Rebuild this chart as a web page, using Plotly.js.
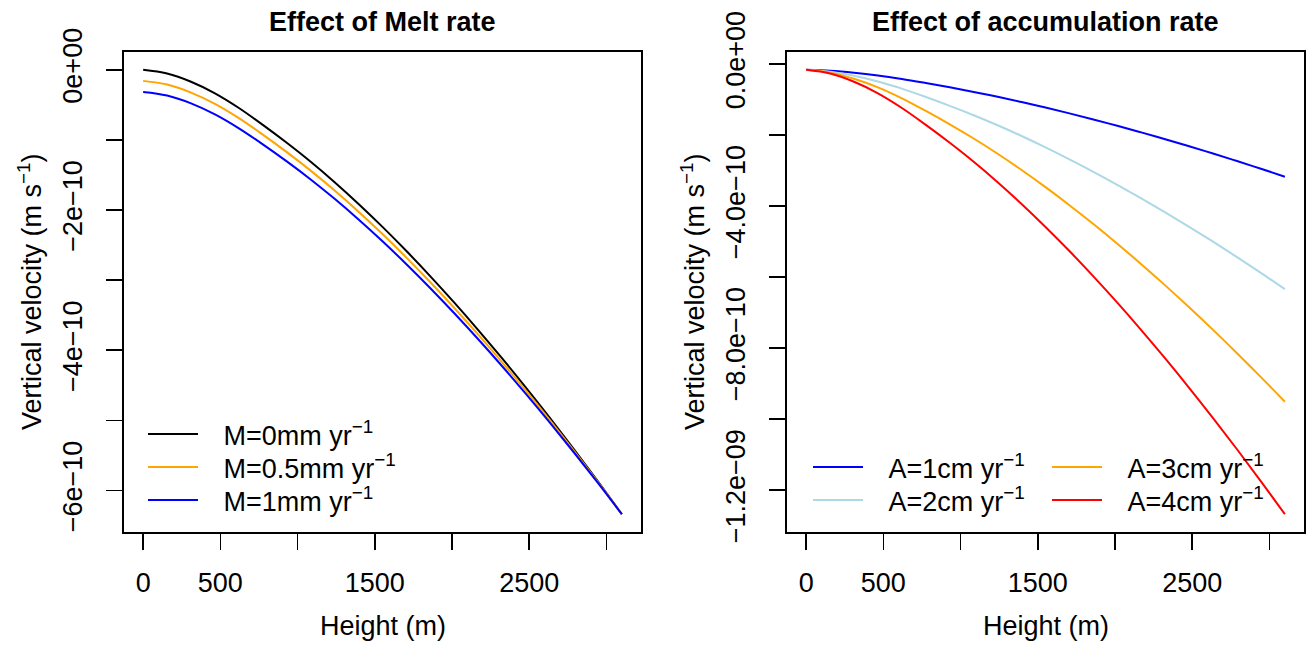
<!DOCTYPE html>
<html><head><meta charset="utf-8">
<script src="https://cdn.plot.ly/plotly-3.0.1.min.js"></script>
<style>html,body{margin:0;padding:0;background:#fff;} #chart{width:1307px;height:646px;}</style>
</head><body><div id="chart"></div>
<script>
// Values, vertical velocity in units of 1e-10 m/s
const UNIT = 1e-10;
const height_m = [0,155,310,465,620,775,930,1085,1240,1395,1550,1705,1860,2015,2170,2325,2480,2635,2790,2945,3100];

const melt_M0  = [0,-0.0539,-0.1711,-0.3359,-0.5451,-0.7859,-1.0415,-1.3123,-1.6034,-1.9133,-2.2408,-2.5852,-2.9457,-3.3214,-3.7119,-4.1167,-4.5351,-4.9668,-5.4114,-5.8686,-6.338];
const melt_M05 = [-0.1584,-0.2109,-0.3252,-0.4859,-0.6898,-0.9247,-1.1738,-1.4380,-1.7217,-2.0238,-2.3432,-2.6790,-3.0304,-3.3968,-3.7775,-4.1722,-4.5802,-5.0011,-5.4346,-5.8803,-6.338];
const melt_M1  = [-0.3169,-0.3681,-0.4795,-0.6360,-0.8347,-1.0635,-1.3063,-1.5636,-1.8401,-2.1345,-2.4457,-2.7729,-3.1153,-3.4723,-3.8432,-4.2277,-4.6253,-5.0354,-5.4578,-5.8921,-6.338];

const acc_A1 = [-0.1584,-0.1840,-0.2397,-0.3180,-0.4173,-0.5317,-0.6531,-0.7818,-0.9200,-1.0672,-1.2228,-1.3864,-1.5576,-1.7361,-1.9216,-2.1138,-2.3126,-2.5177,-2.7289,-2.9460,-3.169];
const acc_A2 = [-0.1584,-0.2109,-0.3252,-0.4859,-0.6898,-0.9247,-1.1738,-1.4380,-1.7217,-2.0238,-2.3432,-2.6790,-3.0304,-3.3968,-3.7775,-4.1722,-4.5802,-5.0011,-5.4346,-5.8803,-6.338];
const acc_A3 = [-0.1584,-0.2379,-0.4108,-0.6539,-0.9624,-1.3176,-1.6946,-2.0941,-2.5234,-2.9805,-3.4636,-3.9716,-4.5033,-5.0575,-5.6335,-6.2305,-6.8477,-7.4845,-8.1403,-8.8146,-9.507];
const acc_A4 = [-0.1584,-0.2648,-0.4964,-0.8218,-1.2349,-1.7106,-2.2153,-2.7503,-3.3251,-3.9371,-4.5840,-5.2642,-5.9761,-6.7182,-7.4895,-8.2888,-9.1152,-9.9680,-10.8460,-11.7490,-12.676];

const GAP = '\u00A0\u00A0\u2009';
const melt_labels = ['M=0mm yr<sup>\u22121</sup>','M=0.5mm yr<sup>\u22121</sup>','M=1mm yr<sup>\u22121</sup>'];
const acc_labels  = ['A=1cm yr<sup>\u22121</sup>','A=2cm yr<sup>\u22121</sup>','A=3cm yr<sup>\u22121</sup>','A=4cm yr<sup>\u22121</sup>'];

const x_ticks = [0,500,1500,2500];
const x_ticktext = ['0','500','1500','2500'];
const x_minor = [1000,2000,3000];
const y1_ticks = [0,-2,-4,-6];
const y1_ticktext = ['0e+00','\u22122e\u221210','\u22124e\u221210','\u22126e\u221210'];
const y1_minor = [-1,-3,-5];
const y2_ticks = [0,-4,-8,-12];
const y2_ticktext = ['0.0e+00','\u22124.0e\u221210','\u22128.0e\u221210','\u22121.2e\u221209'];
const y2_minor = [-2,-6,-10];

const toSI = a => a.map(v => v * UNIT);
const FONT = 'Liberation Sans, Arial, Helvetica, sans-serif';

function line(x, y, color, name, xa, ya, legend) {
  return {x: x, y: toSI(y), type: 'scatter', mode: 'lines', name: GAP + name,
    line: {color: color, width: 2, shape: 'spline', smoothing: 1},
    xaxis: xa, yaxis: ya, legend: legend, hoverinfo: 'skip'};
}

const traces = [
  line(height_m, melt_M0,  '#000000', melt_labels[0], 'x', 'y', 'legend'),
  line(height_m, melt_M05, '#FFA500', melt_labels[1], 'x', 'y', 'legend2'),
  line(height_m, melt_M1,  '#0000FF', melt_labels[2], 'x', 'y', 'legend3'),
  line(height_m, acc_A1, '#0000FF', acc_labels[0], 'x2', 'y2', 'legend4'),
  line(height_m, acc_A2, '#ADD8E6', acc_labels[1], 'x2', 'y2', 'legend5'),
  line(height_m, acc_A3, '#FFA500', acc_labels[2], 'x2', 'y2', 'legend6'),
  line(height_m, acc_A4, '#FF0000', acc_labels[3], 'x2', 'y2', 'legend7')
];

const minorBase = {ticks: 'outside', ticklen: 16, tickwidth: 1.6, tickcolor: '#000', showgrid: false, tickmode: 'array'};
const axBase = {
  showline: true, mirror: true, linecolor: '#000', linewidth: 1.6,
  ticks: 'outside', ticklen: 16, tickwidth: 1.6, tickcolor: '#000',
  showgrid: false, zeroline: false, tickmode: 'array', fixedrange: true,
  tickfont: {family: FONT, size: 27, color: '#000'}
};

const legBase = {
  xanchor: 'left', yanchor: 'top', bgcolor: 'rgba(0,0,0,0)', borderwidth: 0,
  font: {family: FONT, size: 27, color: '#000'}, itemwidth: 50
};
function leg(xpx, rowpx) { return Object.assign({}, legBase, {x: xpx/1307, y: 1-(rowpx-24)/646}); }

const layout = {
  width: 1307, height: 646,
  margin: {l: 0, r: 0, t: 0, b: 0},
  paper_bgcolor: '#fff', plot_bgcolor: '#fff',
  font: {family: FONT, size: 27, color: '#000'},
  showlegend: true,
  xaxis: Object.assign({}, axBase, {domain: [124/1307, 641/1307], range: [-124, 3224],
    tickvals: x_ticks, ticktext: x_ticktext, anchor: 'y', ticklabelstandoff: 10,
    minor: Object.assign({}, minorBase, {tickvals: x_minor})}),
  yaxis: Object.assign({}, axBase, {domain: [1-532/646, 1-52/646], range: [-6.5915*UNIT, 0.2535*UNIT],
    tickvals: toSI(y1_ticks), ticktext: y1_ticktext, tickangle: -90, anchor: 'x', ticklabelstandoff: 14,
    minor: Object.assign({}, minorBase, {tickvals: toSI(y1_minor)})}),
  xaxis2: Object.assign({}, axBase, {domain: [787/1307, 1304/1307], range: [-124, 3224],
    tickvals: x_ticks, ticktext: x_ticktext, anchor: 'y2', ticklabelstandoff: 10,
    minor: Object.assign({}, minorBase, {tickvals: x_minor})}),
  yaxis2: Object.assign({}, axBase, {domain: [1-532/646, 1-52/646], range: [-13.177*UNIT, 0.3427*UNIT],
    tickvals: toSI(y2_ticks), ticktext: y2_ticktext, tickangle: -90, anchor: 'x2', ticklabelstandoff: 14,
    minor: Object.assign({}, minorBase, {tickvals: toSI(y2_minor)})}),
  legend:  leg(143, 434),
  legend2: leg(143, 467),
  legend3: leg(143, 500),
  legend4: leg(808, 467),
  legend5: leg(808, 500),
  legend6: leg(1047, 467),
  legend7: leg(1047, 500),
  annotations: [
    {text: '<b>Effect of Melt rate</b>', xref: 'paper', yref: 'paper', x: 382.5/1307, y: 1-22/646,
     xanchor: 'center', yanchor: 'middle', showarrow: false, font: {family: FONT, size: 27}},
    {text: '<b>Effect of accumulation rate</b>', xref: 'paper', yref: 'paper', x: 1045.5/1307, y: 1-22/646,
     xanchor: 'center', yanchor: 'middle', showarrow: false, font: {family: FONT, size: 27}},
    {text: 'Height (m)', xref: 'paper', yref: 'paper', x: 382.5/1307, y: 1-626/646,
     xanchor: 'center', yanchor: 'middle', showarrow: false, font: {family: FONT, size: 27}},
    {text: 'Height (m)', xref: 'paper', yref: 'paper', x: 1045.5/1307, y: 1-626/646,
     xanchor: 'center', yanchor: 'middle', showarrow: false, font: {family: FONT, size: 27}},
    {text: 'Vertical velocity (m s<sup>\u22121</sup>)', xref: 'paper', yref: 'paper', x: 30/1307, y: 1-292/646,
     xanchor: 'center', yanchor: 'middle', textangle: -90, showarrow: false, font: {family: FONT, size: 27}},
    {text: 'Vertical velocity (m s<sup>\u22121</sup>)', xref: 'paper', yref: 'paper', x: 693/1307, y: 1-292/646,
     xanchor: 'center', yanchor: 'middle', textangle: -90, showarrow: false, font: {family: FONT, size: 27}}
  ]
};

Plotly.newPlot('chart', traces, layout, {displayModeBar: false, staticPlot: true});
</script>
</body></html>
